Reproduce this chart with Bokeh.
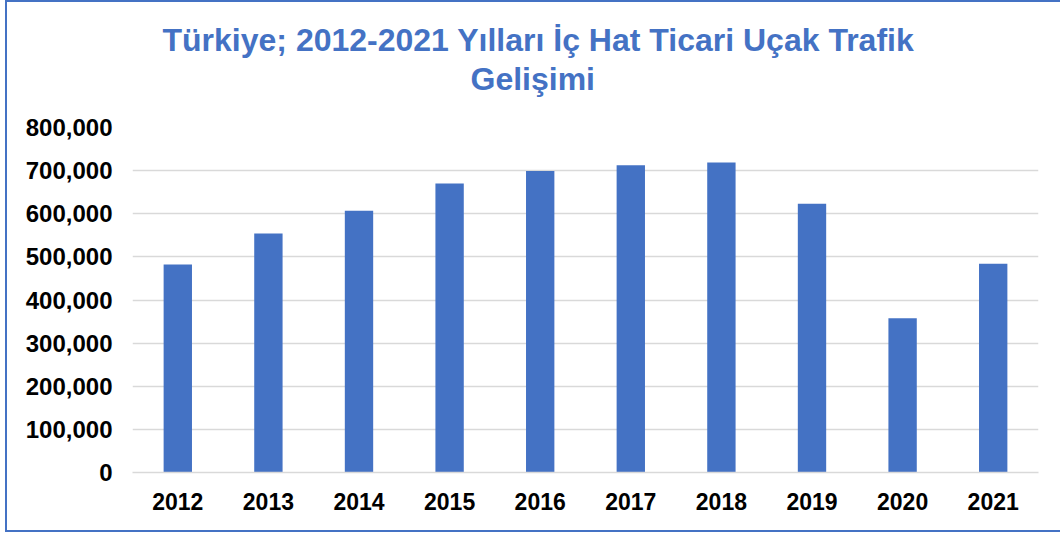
from bokeh.plotting import figure
from bokeh.models import Range1d, NumeralTickFormatter, Title, FixedTicker
from bokeh.embed import file_html
from bokeh.resources import INLINE

years = ["2012", "2013", "2014", "2015", "2016", "2017", "2018", "2019", "2020", "2021"]
traffic = [482500, 554000, 607000, 670000, 699000, 712500, 719000, 623000, 357600, 484000]
y_ticks = [0, 100000, 200000, 300000, 400000, 500000, 600000, 700000, 800000]

title_line1 = "Türkiye; 2012-2021 Yılları İç Hat Ticari Uçak Trafik"
title_line2 = "Gelişimi"

BLUE = "#4472C4"
GRID = "#d9d9d9"
FONT = "Liberation Sans"

p = figure(x_range=years, y_range=Range1d(0, 800000),
           width=1055, height=532, output_backend="svg", toolbar_location=None,
           min_border_left=125, min_border_right=24, min_border_top=125, min_border_bottom=62)

p.title.visible = False
t2 = Title(text=title_line2, align="left", offset=338, standoff=61, text_font=FONT,
           text_font_size="32px", text_font_style="bold", text_color=BLUE)
t1 = Title(text=title_line1, align="left", offset=30, standoff=-59, text_font=FONT,
           text_font_size="32px", text_font_style="bold", text_color=BLUE)
p.add_layout(t2, "above")
p.add_layout(t1, "above")

p.vbar(x=years, top=traffic, width=0.313, fill_color=BLUE, line_color=None)

p.x_range.range_padding = 0
p.outline_line_color = None
p.background_fill_color = "white"
p.border_fill_color = "white"

p.xgrid.grid_line_color = None
p.ygrid.grid_line_color = GRID
p.ygrid.grid_line_width = 1.5

p.yaxis.ticker = FixedTicker(ticks=y_ticks)
p.yaxis.formatter = NumeralTickFormatter(format="0,0")
p.yaxis.axis_line_color = None
p.yaxis.major_tick_line_color = None
p.yaxis.minor_tick_line_color = None
p.yaxis.major_tick_out = 0
p.yaxis.major_label_standoff = 20
p.yaxis.major_label_text_font = FONT
p.yaxis.major_label_text_font_size = "24px"
p.yaxis.major_label_text_font_style = "bold"
p.yaxis.major_label_text_color = "black"

p.xaxis.axis_line_color = GRID
p.xaxis.axis_line_width = 1.5
p.xaxis.major_tick_line_color = None
p.xaxis.minor_tick_line_color = None
p.xaxis.major_tick_out = 0
p.xaxis.major_label_standoff = 20
p.xaxis.major_label_text_font = FONT
p.xaxis.major_label_text_font_size = "23px"
p.xaxis.major_label_text_font_style = "bold"
p.xaxis.major_label_text_color = "black"

p.styles = {"border": "2px solid " + BLUE, "border-right": "none",
            "box-sizing": "border-box", "margin-left": "5px"}

open("out.html", "w").write(file_html(p, INLINE))
